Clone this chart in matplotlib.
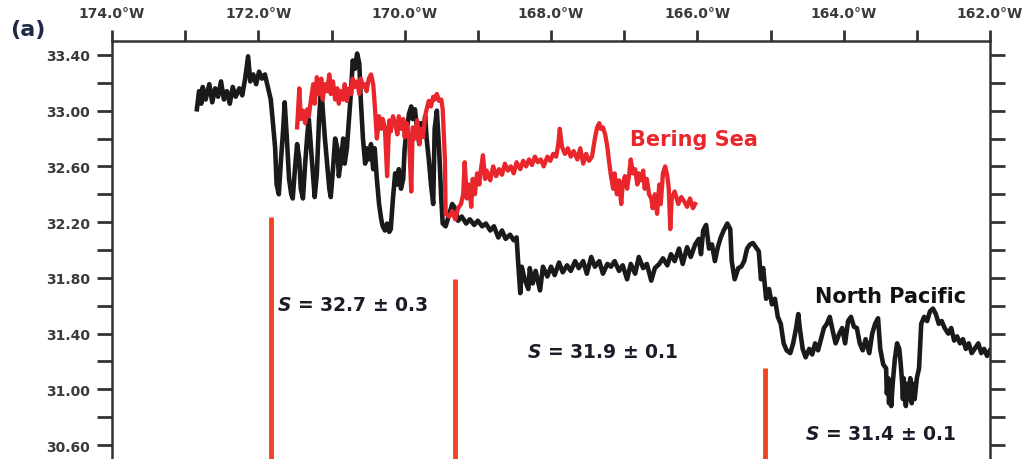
import matplotlib
matplotlib.use("Agg")
import matplotlib.pyplot as plt
from matplotlib.ticker import FixedLocator, FuncFormatter

plt.rcParams['font.family'] = ['DejaVu Sans']
plt.rcParams['mathtext.fontset'] = 'dejavusans'

# North Pacific track (longitude in degrees, negative = west; salinity)
np_lon = [-172.84, -172.81, -172.78, -172.76, -172.72, -172.67, -172.63, -172.59, -172.55, -172.51,
          -172.47, -172.43, -172.39, -172.35, -172.31, -172.26, -172.22, -172.18, -172.14, -172.11,
          -172.07, -172.03, -171.99, -171.95, -171.91, -171.87, -171.83, -171.80, -171.77, -171.75,
          -171.72, -171.69, -171.66, -171.64, -171.61, -171.58, -171.55, -171.53, -171.50, -171.47,
          -171.44, -171.42, -171.39, -171.36, -171.33, -171.31, -171.28, -171.25, -171.23, -171.20,
          -171.17, -171.14, -171.12, -171.09, -171.06, -171.03, -171.01, -170.98, -170.95, -170.92,
          -170.90, -170.87, -170.84, -170.82, -170.79, -170.76, -170.73, -170.71, -170.68, -170.65,
          -170.62, -170.60, -170.57, -170.54, -170.52, -170.49, -170.46, -170.43, -170.41, -170.38,
          -170.35, -170.32, -170.30, -170.27, -170.24, -170.21, -170.19, -170.16, -170.13, -170.10,
          -170.08, -170.05, -170.02, -170.00, -169.97, -169.94, -169.91, -169.89, -169.86, -169.83,
          -169.80, -169.78, -169.75, -169.72, -169.70, -169.67, -169.64, -169.61, -169.59, -169.56,
          -169.53, -169.50, -169.48, -169.44, -169.39, -169.35, -169.31, -169.27, -169.22, -169.16,
          -169.11, -169.05, -169.00, -168.94, -168.89, -168.83, -168.78, -168.72, -168.67, -168.62,
          -168.56, -168.51, -168.47, -168.45, -168.42, -168.40, -168.36, -168.31, -168.29, -168.25,
          -168.21, -168.15, -168.11, -168.05, -168.00, -167.95, -167.89, -167.84, -167.78, -167.73,
          -167.67, -167.62, -167.56, -167.51, -167.45, -167.40, -167.34, -167.29, -167.23, -167.18,
          -167.13, -167.07, -167.02, -166.96, -166.91, -166.85, -166.80, -166.74, -166.69, -166.63,
          -166.58, -166.52, -166.47, -166.41, -166.36, -166.31, -166.25, -166.20, -166.14, -166.09,
          -166.03, -165.98, -165.95, -165.92, -165.88, -165.84, -165.80, -165.76, -165.72, -165.68,
          -165.64, -165.59, -165.55, -165.53, -165.49, -165.44, -165.40, -165.36, -165.32, -165.28,
          -165.24, -165.20, -165.16, -165.13, -165.10, -165.06, -165.02, -164.98, -164.94, -164.90,
          -164.86, -164.82, -164.78, -164.73, -164.69, -164.65, -164.62, -164.60, -164.56, -164.52,
          -164.47, -164.43, -164.39, -164.35, -164.31, -164.27, -164.23, -164.19, -164.15, -164.11,
          -164.06, -164.02, -163.98, -163.94, -163.90, -163.86, -163.82, -163.78, -163.74, -163.70,
          -163.65, -163.61, -163.57, -163.53, -163.50, -163.46, -163.42, -163.41, -163.39, -163.38,
          -163.37, -163.35, -163.33, -163.30, -163.27, -163.24, -163.22, -163.20, -163.19, -163.18,
          -163.15, -163.13, -163.11, -163.09, -163.07, -163.05, -163.03, -163.00,
          -162.97, -162.94, -162.90, -162.86, -162.82, -162.78, -162.74, -162.70, -162.66, -162.62,
          -162.57, -162.53, -162.49, -162.45, -162.41, -162.37, -162.33, -162.29, -162.25, -162.21,
          -162.16, -162.12, -162.08, -162.04, -162.00]
np_sal = [33.01, 33.14, 33.05, 33.17, 33.08, 33.19, 33.06, 33.16, 33.10, 33.21,
          33.08, 33.14, 33.05, 33.17, 33.10, 33.16, 33.11, 33.23, 33.39, 33.21,
          33.26, 33.19, 33.28, 33.23, 33.26, 33.17, 33.08, 32.91, 32.73, 32.47,
          32.40, 32.65, 32.87, 33.06, 32.80, 32.51, 32.40, 32.37, 32.58, 32.76,
          32.65, 32.44, 32.37, 32.62, 32.83, 32.94, 32.73, 32.51, 32.38, 32.55,
          32.94, 33.19, 33.01, 32.80, 32.62, 32.44, 32.38, 32.58, 32.80, 32.73,
          32.53, 32.65, 32.80, 32.62, 32.73, 32.94, 33.16, 33.36, 33.30, 33.41,
          33.34, 33.08, 32.80, 32.62, 32.73, 32.65, 32.76, 32.58, 32.73, 32.51,
          32.33, 32.22, 32.17, 32.14, 32.19, 32.13, 32.15, 32.37, 32.55, 32.47,
          32.58, 32.44, 32.51, 32.73, 32.87, 32.98, 33.03, 32.94, 33.01, 32.87,
          32.76, 32.91, 32.83, 32.96, 32.80, 32.65, 32.47, 32.33, 32.87, 33.00,
          32.73, 32.37, 32.19, 32.17, 32.26, 32.33, 32.30, 32.21, 32.24, 32.19,
          32.22, 32.18, 32.21, 32.17, 32.19, 32.14, 32.17, 32.09, 32.14, 32.08,
          32.11, 32.07, 32.09, 31.92, 31.69, 31.88, 31.79, 31.72, 31.87, 31.76,
          31.85, 31.71, 31.88, 31.81, 31.88, 31.82, 31.91, 31.84, 31.89, 31.85,
          31.92, 31.87, 31.92, 31.83, 31.95, 31.88, 31.92, 31.83, 31.90, 31.88,
          31.92, 31.85, 31.89, 31.79, 31.90, 31.83, 31.95, 31.87, 31.90, 31.78,
          31.87, 31.90, 31.94, 31.89, 31.97, 31.92, 32.01, 31.90, 32.02, 31.95,
          32.04, 32.08, 31.97, 32.14, 32.18, 32.01, 32.04, 31.92, 32.02, 32.09,
          32.14, 32.19, 32.15, 31.92, 31.79, 31.87, 31.88, 31.92, 32.01, 32.04,
          32.05, 32.02, 31.99, 31.79, 31.87, 31.65, 31.72, 31.61, 31.65, 31.52,
          31.47, 31.33, 31.28, 31.26, 31.33, 31.44, 31.54, 31.44, 31.29, 31.23,
          31.29, 31.25, 31.33, 31.28, 31.36, 31.44, 31.47, 31.52, 31.42, 31.33,
          31.40, 31.44, 31.33, 31.49, 31.52, 31.45, 31.44, 31.33, 31.28, 31.36,
          31.26, 31.40, 31.47, 31.51, 31.29, 31.18, 31.15, 30.97, 31.08, 30.90,
          31.04, 30.88, 31.04, 31.22, 31.33, 31.29, 31.18, 31.04, 30.93, 31.08,
          30.88, 31.04, 30.93, 31.08, 30.90, 31.04, 30.93, 31.08,
          31.15, 31.47, 31.52, 31.49, 31.56, 31.58, 31.54, 31.47, 31.49, 31.44,
          31.40, 31.44, 31.35, 31.38, 31.33, 31.36, 31.29, 31.33, 31.26, 31.29,
          31.33, 31.26, 31.29, 31.24, 31.28]

# Bering Sea track
bs_lon = [-171.47, -171.44, -171.42, -171.39, -171.36, -171.33, -171.31, -171.28, -171.25, -171.23,
          -171.20, -171.17, -171.14, -171.12, -171.09, -171.06, -171.03, -171.01, -170.98, -170.95,
          -170.92, -170.90, -170.87, -170.84, -170.82, -170.79, -170.76, -170.73, -170.71, -170.68,
          -170.65, -170.62, -170.60, -170.57, -170.54, -170.52, -170.49, -170.46, -170.43, -170.41,
          -170.38, -170.35, -170.32, -170.30, -170.27, -170.24, -170.21, -170.19, -170.16, -170.13,
          -170.10, -170.08, -170.05, -170.02, -170.00, -169.97, -169.94, -169.91, -169.89, -169.86,
          -169.83, -169.80, -169.78, -169.75, -169.72, -169.70, -169.67, -169.64, -169.61, -169.59,
          -169.56, -169.53, -169.50, -169.48, -169.45, -169.44, -169.39, -169.35, -169.31, -169.27,
          -169.23, -169.20, -169.18, -169.15, -169.12, -169.09, -169.07, -169.04, -169.01, -168.98,
          -168.96, -168.93, -168.90, -168.88, -168.83, -168.79, -168.75, -168.71, -168.67, -168.63,
          -168.59, -168.55, -168.51, -168.47, -168.42, -168.38, -168.34, -168.30, -168.26, -168.22,
          -168.18, -168.14, -168.10, -168.05, -168.01, -167.97, -167.93, -167.90, -167.88, -167.85,
          -167.81, -167.77, -167.73, -167.69, -167.64, -167.60, -167.56, -167.52, -167.48, -167.44,
          -167.40, -167.37, -167.34, -167.32, -167.29, -167.26, -167.23, -167.21, -167.18, -167.15,
          -167.13, -167.10, -167.07, -167.04, -167.02, -166.99, -166.96, -166.93, -166.91, -166.88,
          -166.85, -166.82, -166.80, -166.77, -166.74, -166.72, -166.69, -166.66, -166.63, -166.61,
          -166.58, -166.55, -166.52, -166.50, -166.47, -166.44, -166.41, -166.39, -166.37, -166.35,
          -166.31, -166.26, -166.22, -166.18, -166.14, -166.10, -166.06, -166.03]
bs_sal = [32.88, 33.16, 32.94, 33.00, 32.91, 33.01, 32.96, 33.08, 33.19, 33.05,
          33.24, 33.12, 33.23, 33.08, 33.19, 33.14, 33.26, 33.12, 33.21, 33.08,
          33.16, 33.05, 33.14, 33.08, 33.19, 33.07, 33.16, 33.12, 33.23, 33.17,
          33.21, 33.12, 33.23, 33.17, 33.19, 33.14, 33.23, 33.26, 33.19, 33.05,
          32.80, 32.96, 32.87, 32.94, 32.88, 32.53, 32.93, 32.85, 32.96, 32.91,
          32.83, 32.96, 32.87, 32.94, 32.81, 32.91, 32.80, 32.42, 32.88, 32.80,
          32.93, 32.76, 32.87, 32.81, 32.96, 33.01, 33.07, 33.03, 33.10, 33.08,
          33.12, 33.07, 33.08, 33.01, 32.65, 32.26, 32.24, 32.28, 32.22, 32.30,
          32.33, 32.40, 32.63, 32.37, 32.47, 32.31, 32.51, 32.40, 32.55, 32.47,
          32.57, 32.68, 32.51, 32.57, 32.50, 32.60, 32.53, 32.58, 32.54, 32.62,
          32.57, 32.60, 32.55, 32.63, 32.58, 32.64, 32.60, 32.65, 32.61, 32.67,
          32.63, 32.65, 32.60, 32.67, 32.64, 32.69, 32.67, 32.76, 32.87, 32.74,
          32.69, 32.73, 32.67, 32.71, 32.65, 32.73, 32.62, 32.69, 32.64, 32.67,
          32.80, 32.88, 32.91, 32.87, 32.88, 32.83, 32.74, 32.65, 32.53, 32.44,
          32.55, 32.40, 32.50, 32.33, 32.47, 32.53, 32.44, 32.55, 32.65, 32.55,
          32.58, 32.47, 32.55, 32.50, 32.57, 32.44, 32.51, 32.40, 32.37, 32.30,
          32.40, 32.26, 32.47, 32.33, 32.55, 32.60, 32.53, 32.44, 32.15, 32.37,
          32.42, 32.33, 32.38, 32.35, 32.31, 32.37, 32.30, 32.33]

# segment boundaries (vertical red bars): longitude, top salinity
seg_lon = [-171.83, -169.31, -165.08]
seg_top = [32.24, 31.79, 31.15]

# segment means
seg_text = ["32.7 ± 0.3", "31.9 ± 0.1", "31.4 ± 0.1"]
seg_text_lon = [-171.75, -168.33, -164.53]
seg_text_sal = [31.61, 31.27, 30.68]

xticks = [-174, -172, -170, -168, -166, -164, -162]
xminor = [-173, -171, -169, -167, -165, -163]
yticks = [30.6, 31.0, 31.4, 31.8, 32.2, 32.6, 33.0, 33.4]
yminor = [30.8, 31.2, 31.6, 32.0, 32.4, 32.8, 33.2]

fig = plt.figure(figsize=(10.25, 4.6), dpi=100)
ax = fig.add_axes([112 / 1025, 0.0, 878 / 1025, 1 - 42 / 460])

ax.plot(np_lon, np_sal, color='#1a1a1a', lw=3.3, solid_joinstyle='round')
ax.plot(bs_lon, bs_sal, color='#e8262b', lw=3.1, solid_joinstyle='round')

for lon, top in zip(seg_lon, seg_top):
    ax.plot([lon, lon], [30.5, top], color='#f04423', lw=3.5, solid_capstyle='butt')

for txt, lon, sal in zip(seg_text, seg_text_lon, seg_text_sal):
    ax.text(lon, sal, r'$\mathbfit{S}$ = ' + txt, fontsize=13.5, fontweight='bold',
            color='#1c1c28', ha='left', va='center')

ax.text(-166.92, 32.80, "Bering Sea", fontsize=15, fontweight='bold', color='#e8262b',
        ha='left', va='center')
ax.text(-164.39, 31.67, "North Pacific", fontsize=15, fontweight='bold', color='#111111',
        ha='left', va='center')

ax.set_xlim(-174, -162)
ax.set_ylim(30.5, 33.5)

ax.xaxis.set_major_locator(FixedLocator(xticks))
ax.xaxis.set_minor_locator(FixedLocator(xminor))
ax.yaxis.set_major_locator(FixedLocator(yticks))
ax.yaxis.set_minor_locator(FixedLocator(yminor))
ax.xaxis.set_major_formatter(FuncFormatter(lambda v, p: "%.1f°W" % abs(v)))
ax.yaxis.set_major_formatter(FuncFormatter(lambda v, p: "%.2f" % v))

ax.tick_params(axis='x', which='both', top=True, bottom=False, labeltop=True,
               labelbottom=False, direction='out', length=8, width=2, color='#333333', pad=7)
ax.tick_params(axis='y', which='both', left=True, right=True, labelleft=True,
               labelright=False, direction='out', length=11, width=2, color='#333333', pad=5)
for lab in ax.get_xticklabels() + ax.get_yticklabels():
    lab.set_fontweight('bold')
    lab.set_fontsize(10)
    lab.set_color('#3a3a3a')

ax.spines['bottom'].set_visible(False)
for s in ['top', 'left', 'right']:
    ax.spines[s].set_linewidth(1.8)
    ax.spines[s].set_color('#333333')

fig.text(10 / 1025, 1 - 30 / 460, "(a)", fontsize=16, fontweight='bold', color='#1f2a48',
         ha='left', va='center')

fig.savefig("out.png", dpi=100)
